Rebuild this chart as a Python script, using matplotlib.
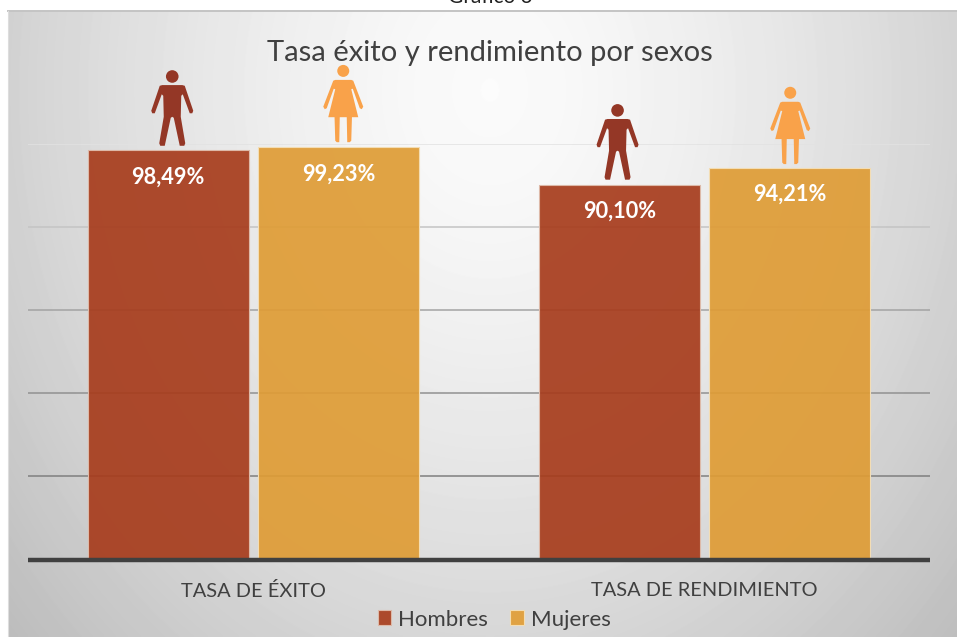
import numpy as np
import matplotlib
matplotlib.use("Agg")
import matplotlib.pyplot as plt
from matplotlib.colors import to_rgba
from matplotlib.patches import Polygon, Circle, Patch
from matplotlib.transforms import Affine2D

categories = ["TASA DE ÉXITO", "TASA DE RENDIMIENTO"]
series_names = ["Hombres", "Mujeres"]
hombres = [98.49, 90.10]
mujeres = [99.23, 94.21]
grid_values = [20, 40, 60, 80, 100]
grid_colors = ["#7f7f7f", "#919191", "#a3a3a3", "#c4c4c4", "#e2e2e2"]
title = "Tasa éxito y rendimiento por sexos"
caption = "Gráfico 3"

W, H = 957, 637
plt.rcParams["font.family"] = ["Lato", "DejaVu Sans"]
fig = plt.figure(figsize=(W / 100, H / 100), dpi=100, facecolor="white")

# background panel with a soft radial gradient
PL, PT = 8, 11
bg = fig.add_axes([PL / W, 0, 1 - PL / W, 1 - PT / H], zorder=0)
bg.axis("off")
yy, xx = np.mgrid[PT:H, PL:W]
r = np.hypot((xx - 490) / 560, (yy - 90) / 700)
grey = np.clip(0.985 - 0.2 * r ** 1.4, 0, 1)
bg.imshow(grey, cmap="gray", vmin=0, vmax=1, aspect="auto", interpolation="bilinear")
fig.add_artist(plt.Line2D([PL / W, 1], [1 - PT / H] * 2, color="#c4c4c4", lw=1.4))
fig.add_artist(plt.Line2D([PL / W] * 2, [0, 1 - PT / H], color="#dddddd", lw=0.8))

# plot area: baseline at y=559.5, 100 % at y=143.5
ax = fig.add_axes([28 / W, 1 - 559.5 / H, 902 / W, (559.5 - 143.5) / H], zorder=1)
ax.patch.set_alpha(0)
ax.set_xlim(-0.5, 1.5)
ax.set_ylim(0, 100)
ax.hlines(grid_values, -0.5, 1.5, colors=grid_colors, lw=1.1, zorder=1)

x = np.arange(len(categories))
bw = 161 / 451
gap = 9.5 / 451
bars_h = ax.bar(x - (bw + gap) / 2, hombres, bw, color=to_rgba("#A73C1C", 0.92),
                edgecolor="#DDB9A8", lw=0.8, zorder=2, label=series_names[0])
bars_m = ax.bar(x + (bw + gap) / 2, mujeres, bw, color=to_rgba("#DF9C35", 0.92),
                edgecolor="#F3DDB4", lw=0.8, zorder=2, label=series_names[1])

for s in ["top", "left", "right"]:
    ax.spines[s].set_visible(False)
ax.spines["bottom"].set_linewidth(3.2)
ax.spines["bottom"].set_color("#404040")
ax.spines["bottom"].set_zorder(3)
ax.spines["bottom"].set_capstyle("butt")
ax.set_yticks([])
ax.set_xticks(x, categories)
ax.tick_params(axis="x", length=0, pad=16.5, labelsize=14.4, labelcolor="#404040")

# value labels
for bars in (bars_h, bars_m):
    for b in bars:
        v = b.get_height()
        ax.annotate(f"{v:.2f}".replace(".", ",") + "%", (b.get_x() + b.get_width() / 2, v),
                    xytext=(0, -27 * 0.72), textcoords="offset points", ha="center", va="center",
                    color="white", fontweight="bold", fontsize=15.7, zorder=4)

# pictograms, in pixels relative to the feet
man_half = [(0, 60.7), (10, 60.7), (12.5, 60), (21, 35), (20, 32.5), (17.5, 32.5), (10.5, 51.5), (9, 50),
            (8.5, 29), (13, 2.5), (12, 0), (7.5, 0), (1.5, 28), (0, 29)]
woman_half = [(0, 62.3), (8, 62.3), (10, 61.5), (20, 35.5), (18.5, 33), (16.5, 34), (9.5, 53.5), (8, 53),
              (15, 25), (8.7, 25), (8, 1.5), (6.5, 0), (4, 0), (3.5, 25), (0, 25)]

def mirrored(half):
    right = np.array(half, float)
    left = right[::-1] * [-1, 1]
    return np.vstack([right, left])

def icon(bar, half, head, color, dx, dy):
    bx = bar.get_x() + bar.get_width() / 2
    px, py = ax.transData.transform((bx, bar.get_height()))
    tr = Affine2D().translate(px + dx, py + dy)
    fig.add_artist(Polygon(mirrored(half), closed=True, fc=color, ec="none", transform=tr, zorder=5))
    fig.add_artist(Circle(head[:2], head[2], fc=color, ec="none", transform=tr, zorder=5))

icon(bars_h[0], man_half, (0, 69.3, 6.3), "#943726", 4, 4)
icon(bars_h[1], man_half, (0, 69.3, 6.3), "#943726", -1.7, 5)
icon(bars_m[0], woman_half, (0, 71.3, 6), "#F9A24A", 4.5, 4.5)
icon(bars_m[1], woman_half, (0, 71.3, 6), "#F9A24A", 0.5, 3.5)

fig.text(489.5 / W, 1 - 53.5 / H, title, ha="center", va="center", fontsize=21, color="#404040", zorder=5)
fig.text(490 / W, 1 - 3 / H, caption, ha="center", va="baseline", fontsize=15, color="#222222", zorder=5)

fig.legend(handles=[Patch(fc="#AC4A2C", ec="#DDB9A8", lw=0.8, label=series_names[0]),
                    Patch(fc="#E0A243", ec="#F3DDB4", lw=0.8, label=series_names[1])],
           loc="center", bbox_to_anchor=(494 / W, 1 - 619.5 / H), ncol=2, frameon=False,
           fontsize=16, labelcolor="#404040", handlelength=0.62, handleheight=0.62,
           handletextpad=0.3, columnspacing=1.0)

fig.savefig("out.png", dpi=100)
